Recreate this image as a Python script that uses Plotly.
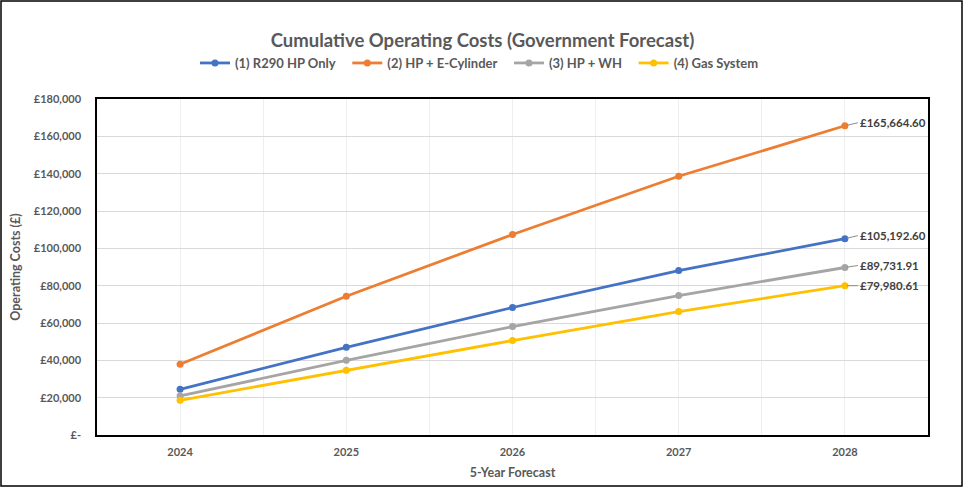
import plotly.graph_objects as go

# Values (last point taken from the data labels)
years = [2024, 2025, 2026, 2027, 2028]
r290_hp_only = [24500, 47000, 68300, 88100, 105192.60]
hp_e_cylinder = [37900, 74300, 107400, 138600, 165664.60]
hp_wh = [20900, 40000, 58100, 74700, 89731.91]
gas_system = [18600, 34700, 50600, 66100, 79980.61]

series_names = ['(1) R290 HP Only', '(2) HP + E-Cylinder', '(3) HP + WH', '(4) Gas System']
series_values = [r290_hp_only, hp_e_cylinder, hp_wh, gas_system]
colors = ['#4472C4', '#ED7D31', '#A5A5A5', '#FFC000']

y_ticks = [0, 20000, 40000, 60000, 80000, 100000, 120000, 140000, 160000, 180000]
y_ticktext = ['£-', '£20,000', '£40,000', '£60,000', '£80,000', '£100,000',
              '£120,000', '£140,000', '£160,000', '£180,000']

W, H = 965, 488
ml, mr, mt, mb = 97, 37, 99, 53

font = 'Lato'
grey = '#595959'

fig = go.Figure()

for name, vals, col in zip(series_names, series_values, colors):
    fig.add_trace(go.Scatter(
        x=years, y=vals, mode='lines+markers',
        name='<b>%s</b>\u00a0\u00a0' % name,  # a bit of extra room between legend items
        line=dict(color=col, width=2.8),
        marker=dict(color=col, size=7),
    ))

# data labels on the last point, with a short leader line
label_offsets = [-3, -3, -2, 0]
for vals, dy in zip(series_values, label_offsets):
    fig.add_annotation(
        x=years[-1], y=vals[-1], text='<b>£{:,.2f}</b>'.format(vals[-1]),
        showarrow=True, arrowhead=0, arrowwidth=1, arrowcolor='#8c8c8c',
        ax=13, ay=dy, xanchor='left', yanchor='middle', standoff=2,
        font=dict(family=font, size=11.5, color='#404040'),
    )

# outer chart frame
pw, ph = W - ml - mr, H - mt - mb
fig.add_shape(type='rect', xref='paper', yref='paper',
              x0=-(ml - 1) / pw, x1=1 + (mr - 3) / pw,
              y0=-(mb - 2) / ph, y1=1 + (mt - 1) / ph,
              line=dict(color='black', width=1.5), layer='below')

fig.update_layout(
    width=W, height=H,
    margin=dict(l=ml, r=mr, t=mt, b=mb, autoexpand=False),
    paper_bgcolor='white', plot_bgcolor='white',
    font=dict(family=font, color=grey),
    title=dict(text='<b>Cumulative Operating Costs (Government Forecast)</b>',
               x=0.5, xref='container', xanchor='center', y=1 - 41 / H, yanchor='middle',
               font=dict(size=18.5, color=grey)),
    # centred on the whole chart, not the plot area
    legend=dict(orientation='h', x=(W / 2 - ml) / pw, xanchor='center',
                y=1 + 36 / ph, yanchor='middle',
                font=dict(size=13, color=grey), itemwidth=30, traceorder='normal'),
    showlegend=True,
)

fig.update_xaxes(
    range=[2023.5, 2028.5], tickvals=years, ticktext=['<b>%d</b>' % y for y in years],
    showgrid=True, gridcolor='#eeeeee', gridwidth=1,
    minor=dict(tickvals=[2024.5, 2025.5, 2026.5, 2027.5], showgrid=True,
               gridcolor='#eeeeee', gridwidth=1),
    showline=True, linecolor='black', linewidth=1.5, mirror=True,
    ticks='', tickfont=dict(size=11, color=grey, family=font), ticklabelstandoff=6,
    title=dict(text='<b>5-Year Forecast</b>', font=dict(size=12.5, color=grey), standoff=11),
    zeroline=False, fixedrange=True, automargin=False,
)

fig.update_yaxes(
    range=[0, 180000], tickvals=y_ticks, ticktext=['<b>%s</b>' % t for t in y_ticktext],
    showgrid=True, gridcolor='#d9d9d9', gridwidth=1,
    showline=True, linecolor='black', linewidth=1.5, mirror=True,
    ticks='', tickfont=dict(size=11, color=grey, family=font), ticklabelstandoff=12,
    title=dict(text='<b>Operating Costs (£)</b>', font=dict(size=12.5, color=grey), standoff=10),
    zeroline=False, fixedrange=True, automargin=False,
)

# drop the page's default body margin so the figure sits at the window corner
fig.write_html('out.html', config={'displayModeBar': False},
               post_script="document.body.style.margin='0px';")
